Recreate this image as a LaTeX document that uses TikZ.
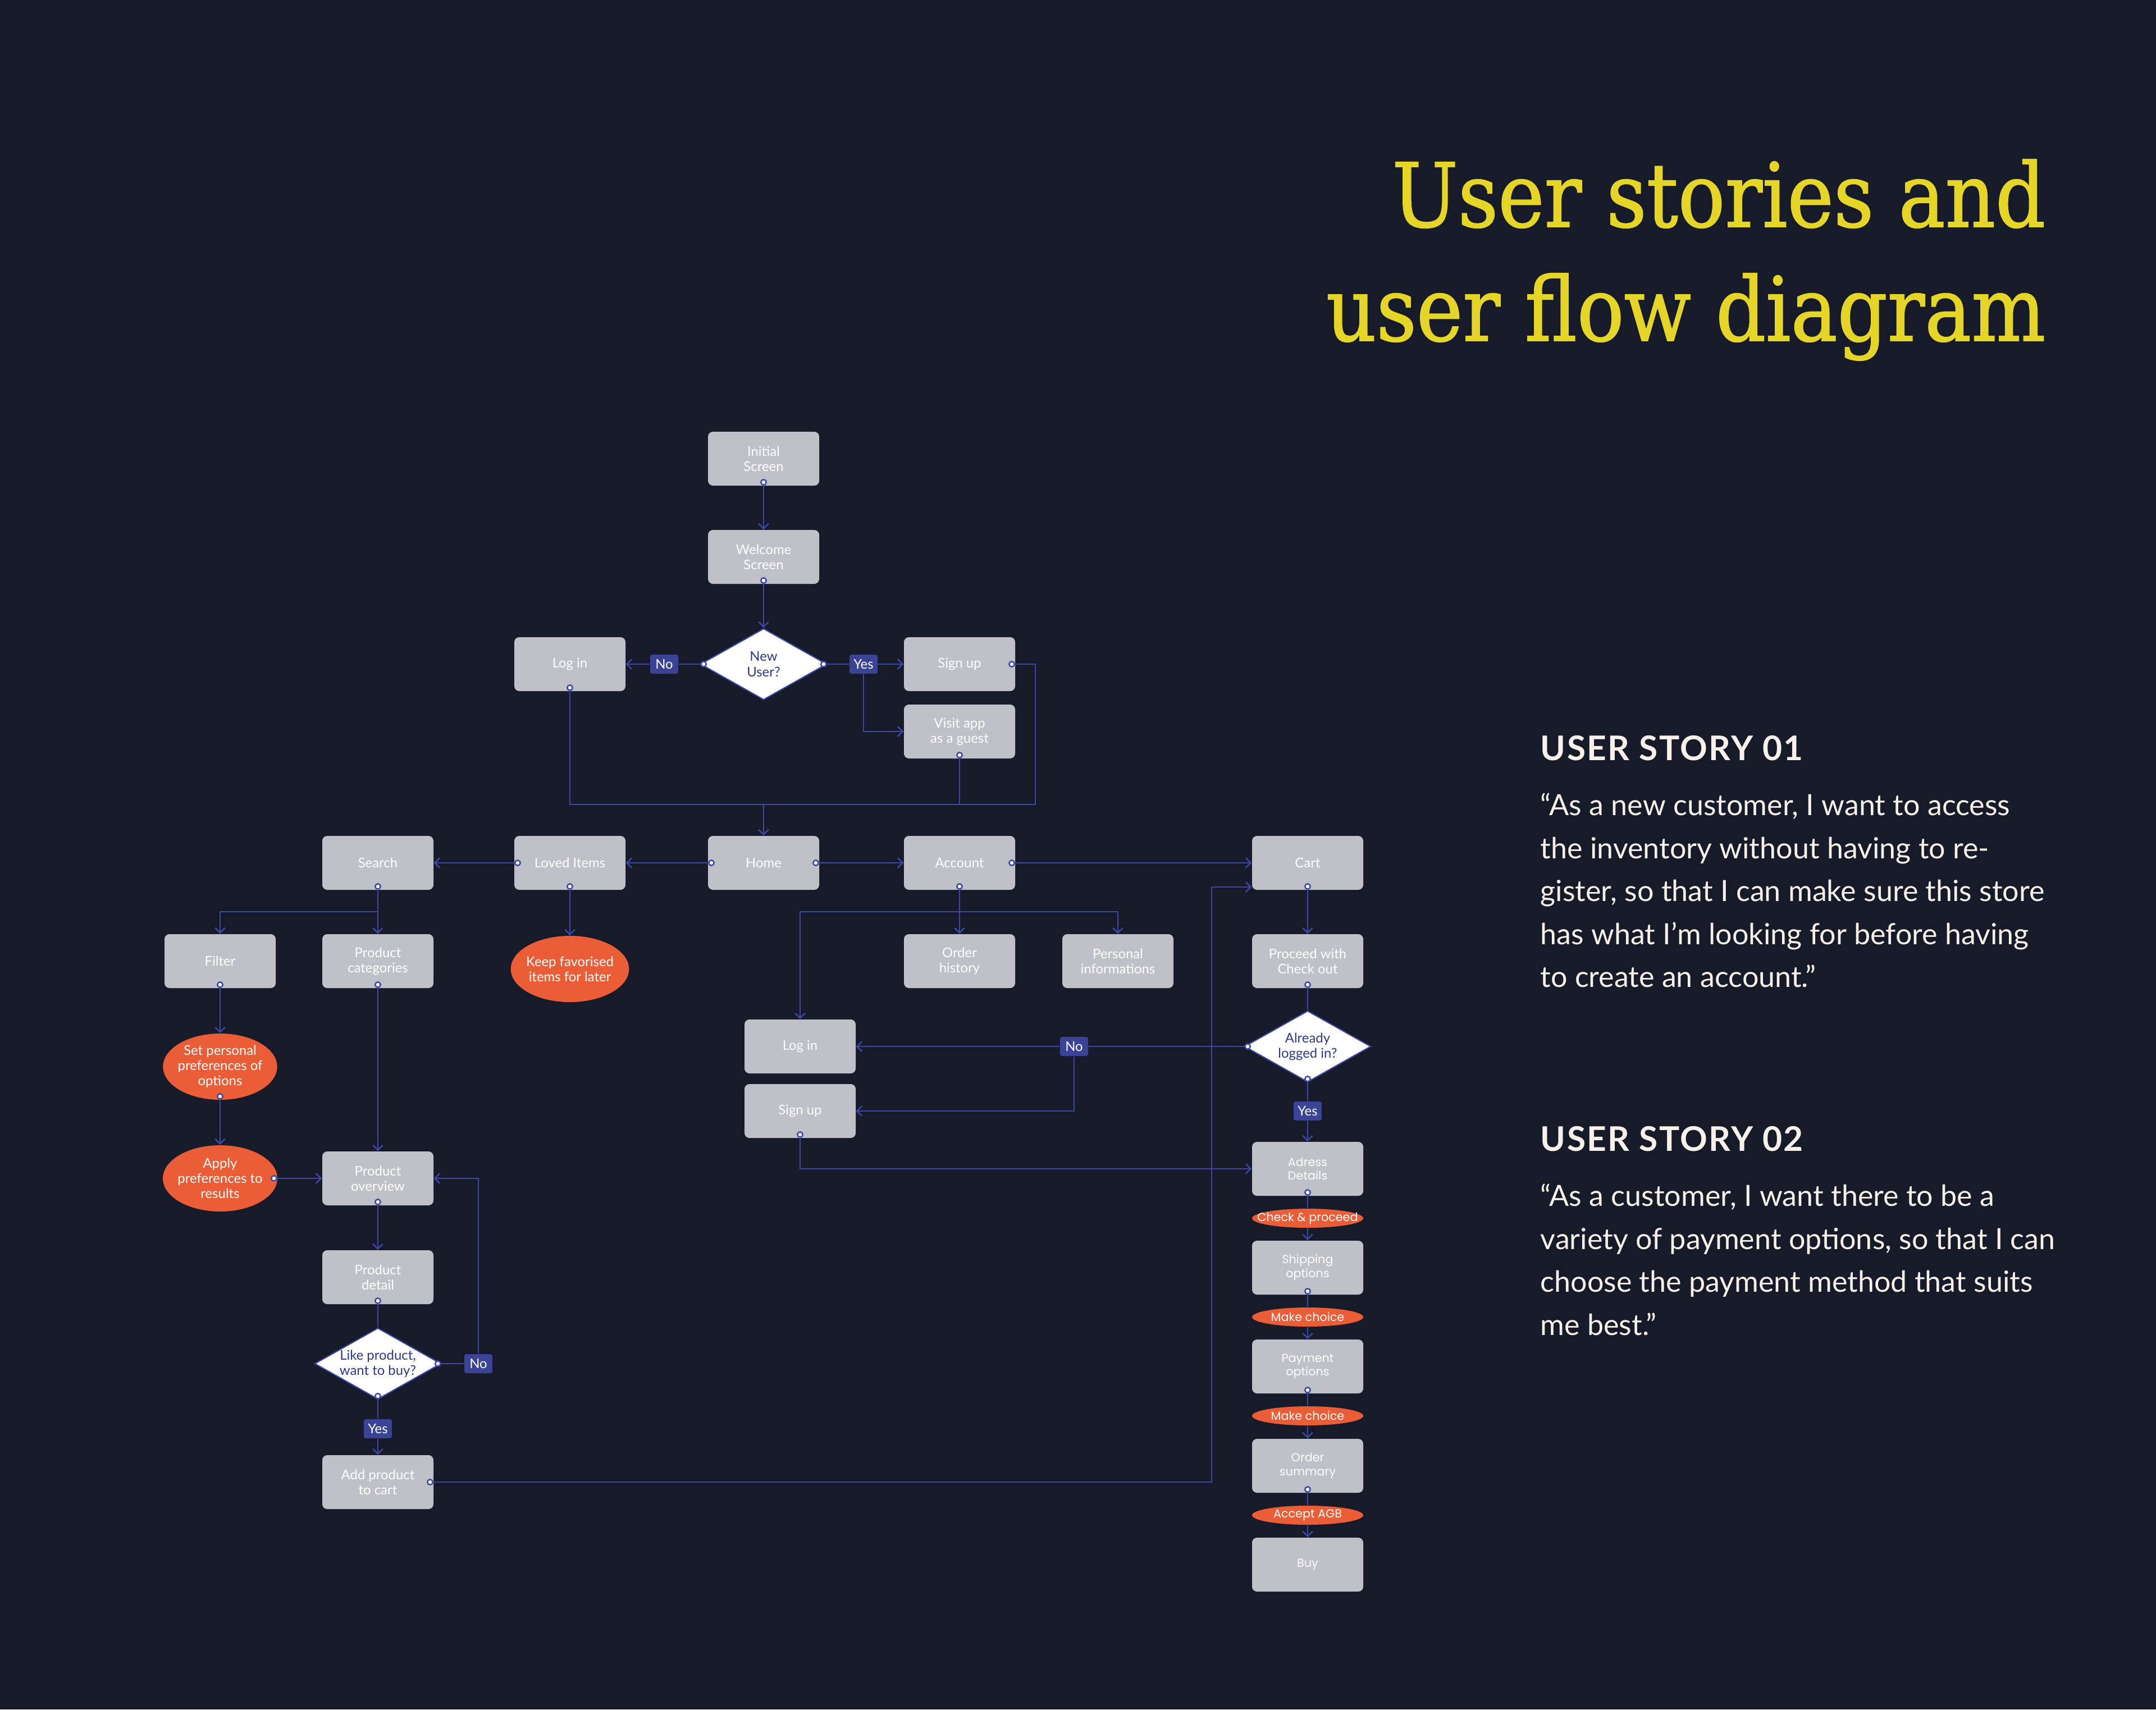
\documentclass[tikz,border=0pt]{standalone}
\usepackage{fontspec}
\setmainfont{Lato}
\newfontfamily\chainfont{Poppins}
\newfontfamily\titlefont{DejaVu Serif}[FakeStretch=0.88, FakeBold=1.2]
\usetikzlibrary{arrows.meta,positioning,shapes.geometric}
\definecolor{pageNavy}{RGB}{23,27,41}
\definecolor{boxGray}{RGB}{191,193,201}
\definecolor{accentOrange}{RGB}{235,93,54}
\definecolor{tagBlue}{RGB}{58,67,150}
\definecolor{lineBlue}{RGB}{61,71,165}
\definecolor{askBlue}{RGB}{46,56,140}
\definecolor{titleYellow}{RGB}{229,213,38}
\definecolor{storyWhite}{RGB}{247,241,234}

\tikzset{
  screen/.style={rectangle, rounded corners=2.5pt, fill=boxGray, minimum width=1.98cm, minimum height=0.96cm,
    inner sep=1pt, align=center, text=white, font={\fontsize{6.8pt}{7.7pt}\selectfont}},
  chainbox/.style={screen, font={\chainfont\fontsize{5.9pt}{7pt}\selectfont}},
  choice/.style={diamond, aspect=1.77, fill=white, draw=lineBlue, line width=0.6pt, minimum width=2.25cm,
    minimum height=1.27cm, inner sep=0pt, align=center, text=askBlue, font={\fontsize{6.8pt}{7.7pt}\selectfont}},
  answer/.style={rectangle, rounded corners=1pt, fill=tagBlue, minimum width=0.5cm, minimum height=0.34cm,
    inner sep=0pt, text=white, font={\fontsize{6.8pt}{7.7pt}\selectfont}},
  note/.style={ellipse, fill=accentOrange, minimum width=2cm, minimum height=1.18cm, inner sep=-1pt,
    align=center, text=white, font={\fontsize{6.8pt}{7.7pt}\selectfont}},
  pill/.style={ellipse, fill=accentOrange, minimum width=1.98cm, minimum height=0.34cm, inner xsep=-0.4cm,
    inner ysep=0pt, text=white, font={\chainfont\fontsize{5.9pt}{7pt}\selectfont}},
  wire/.style={draw=lineBlue, line width=0.7pt},
  flow/.style={wire, {Circle[fill=white,length=3.4pt]}-{Straight Barb[length=2.5pt,width=5pt]}, shorten <=-3.6pt},
  flowin/.style={wire, {Circle[fill=white,length=3.4pt]}-, shorten <=-3.6pt},
  lead/.style={wire, -{Straight Barb[length=2.5pt,width=5pt]}}
}

\begin{document}
\begin{tikzpicture}[x=1cm, y=-1cm]
\fill[pageNavy] (0,0) rectangle (38.4,30.45);
\useasboundingbox (0,0) rectangle (38.4,30.45);

% title and stories
\node[anchor=base east, inner sep=0pt, text=titleYellow, font={\titlefont\fontsize{45pt}{45pt}\selectfont}] (title1) at (36.44,4.04) {User stories and};
\node[anchor=base east, inner sep=0pt, text=titleYellow, font={\titlefont\fontsize{45pt}{45pt}\selectfont}] (title2) at (36.44,6.07) {user flow diagram};

\node[anchor=base west, inner sep=0pt, text=storyWhite, font={\fontsize{17.2pt}{20pt}\selectfont\bfseries\addfontfeatures{LetterSpace=4}}] (story1head) at (27.43,13.54) {USER STORY 01};
\node[anchor=north west, inner sep=0pt, align=left, text=storyWhite, font={\fontsize{14.8pt}{21.8pt}\selectfont}] (story1) at (27.43,14.12)
  {“As a new customer, I want to access\\the inventory without having to re-\\gister, so that I can make sure this store\\has what I’m looking for before having\\to create an account.”};
\node[anchor=base west, inner sep=0pt, text=storyWhite, font={\fontsize{17.2pt}{20pt}\selectfont\bfseries\addfontfeatures{LetterSpace=4}}] (story2head) at (27.43,20.50) {USER STORY 02};
\node[anchor=north west, inner sep=0pt, align=left, text=storyWhite, font={\fontsize{14.8pt}{21.8pt}\selectfont}] (story2) at (27.43,21.08)
  {“As a customer, I want there to be a\\variety of payment options, so that I can\\choose the payment method that suits\\me best.”};

% entry
\node[screen] (init) at (13.60,8.17) {Initial\\Screen};
\node[screen] (welcome) at (13.60,9.92) {Welcome\\Screen};
\node[choice] (newuser) at (13.60,11.83) {New\\User?};
\node[answer] (no1) at (11.83,11.83) {No};
\node[screen] (login1) at (10.15,11.83) {Log in};
\node[answer] (yes1) at (15.38,11.83) {Yes};
\node[screen] (signup1) at (17.09,11.83) {Sign up};
\node[screen] (guest) at (17.09,13.03) {Visit app\\as a guest};
\coordinate (homein) at (13.60,14.33);
\coordinate (rightbend) at (18.44,14.33);

% main row
\node[screen] (search) at (6.73,15.37) {Search};
\node[screen] (loved) at (10.15,15.37) {Loved Items};
\node[screen] (home) at (13.60,15.37) {Home};
\node[screen] (account) at (17.09,15.37) {Account};
\node[screen] (cart) at (23.29,15.37) {Cart};

\node[screen] (filter) at (3.92,17.12) {Filter};
\node[screen] (prodcat) at (6.73,17.12) {Product\\categories};
\node[note] (keep) at (10.15,17.26) {Keep favorised\\items for later};
\node[screen] (orders) at (17.09,17.12) {Order\\history};
\node[screen] (personal) at (19.91,17.12) {Personal\\informations};
\node[screen] (checkout) at (23.29,17.12) {Proceed with\\Check out};
\coordinate (searchfork) at (6.73,16.24);
\coordinate (accountfork) at (17.09,16.24);

% product branch
\node[note] (prefs) at (3.92,19.00) {Set personal\\preferences of\\options};
\node[note] (apply) at (3.92,20.99) {Apply\\preferences to\\results};
\node[screen] (overview) at (6.73,20.99) {Product\\overview};
\node[screen] (detail) at (6.73,22.75) {Product\\detail};
\node[choice] (likeit) at (6.73,24.29) {Like product,\\want to buy?};
\node[answer] (no3) at (8.52,24.29) {No};
\node[answer] (yes3) at (6.73,25.45) {Yes};
\node[screen] (addcart) at (6.73,26.40) {Add product\\to cart};
\coordinate (cartbend) at (21.58,15.80);

% checkout branch
\node[screen] (login2) at (14.25,18.64) {Log in};
\node[screen] (signup2) at (14.25,19.79) {Sign up};
\node[answer] (no2) at (19.13,18.64) {No};
\node[choice] (logged) at (23.29,18.64) {Already\\logged in?};
\node[answer] (yes2) at (23.29,19.79) {Yes};
\node[chainbox] (address) at (23.29,20.82) {Adress\\Details};
\node[pill] (checkok) at (23.29,21.70) {Check \& proceed};
\node[chainbox] (shipping) at (23.29,22.58) {Shipping\\options};
\node[pill] (choice1) at (23.29,23.46) {Make choice};
\node[chainbox] (payment) at (23.29,24.34) {Payment\\options};
\node[pill] (choice2) at (23.29,25.22) {Make choice};
\node[chainbox] (summary) at (23.29,26.11) {Order\\summary};
\node[pill] (agb) at (23.29,26.99) {Accept AGB};
\node[chainbox] (buy) at (23.29,27.87) {Buy};

% connectors
\draw[flow] (init.south) -- (welcome.north);
\draw[flow] (welcome.south) -- (newuser.north);
\draw[flowin] (newuser.west) -- (no1.east);
\draw[lead] (no1.west) -- (login1.east);
\draw[flowin] (newuser.east) -- (yes1.west);
\draw[lead] (yes1.east) -- (signup1.west);
\draw[lead] (yes1.south) |- (guest.west);
\draw[flowin] (login1.south) |- (homein);
\draw[flowin] (signup1.east) -| (rightbend) -- (homein);
\draw[flowin] (guest.south) -- (guest.south |- homein);
\draw[lead] (homein) -- (home.north);

\draw[flow] (home.west) -- (loved.east);
\draw[flow] (loved.west) -- (search.east);
\draw[flow] (home.east) -- (account.west);
\draw[flow] (account.east) -- (cart.west);
\draw[flow] (loved.south) -- (keep.north);
\draw[flowin] (search.south) -- (searchfork);
\draw[lead] (searchfork) -- (prodcat.north);
\draw[lead] (searchfork) -| (filter.north);
\draw[flowin] (account.south) -- (accountfork);
\draw[lead] (accountfork) -- (orders.north);
\draw[lead] (accountfork) -| (personal.north);
\draw[lead] (accountfork) -| (login2.north);
\draw[flow] (cart.south) -- (checkout.north);

\draw[flow] (filter.south) -- (prefs.north);
\draw[flow] (prefs.south) -- (apply.north);
\draw[flow] (apply.east) -- (overview.west);
\draw[flow] (prodcat.south) -- (overview.north);
\draw[flow] (overview.south) -- (detail.north);
\draw[flowin] (detail.south) -- (likeit.north);
\draw[flowin] (likeit.east) -- (no3.west);
\draw[lead] (no3.north) |- (overview.east);
\draw[flowin] (likeit.south) -- (yes3.north);
\draw[lead] (yes3.south) -- (addcart.north);
\draw[flowin] (addcart.east) -| (cartbend);
\draw[lead] (cartbend) -- (cartbend -| cart.west);

\draw[flowin] (checkout.south) -- (logged.north);
\draw[flowin] (logged.west) -- (no2.east);
\draw[lead] (no2.west) -- (login2.east);
\draw[lead] (no2.south) |- (signup2.east);
\draw[flowin] (logged.south) -- (yes2.north);
\draw[lead] (yes2.south) -- (address.north);
\draw[flow] (signup2.south) |- (address.west);
\foreach \from/\via/\to in {address/checkok/shipping, shipping/choice1/payment, payment/choice2/summary, summary/agb/buy} {
  \draw[flowin] (\from.south) -- (\via.north);
  \draw[lead] (\via.south) -- (\to.north);
}
\end{tikzpicture}
\end{document}
